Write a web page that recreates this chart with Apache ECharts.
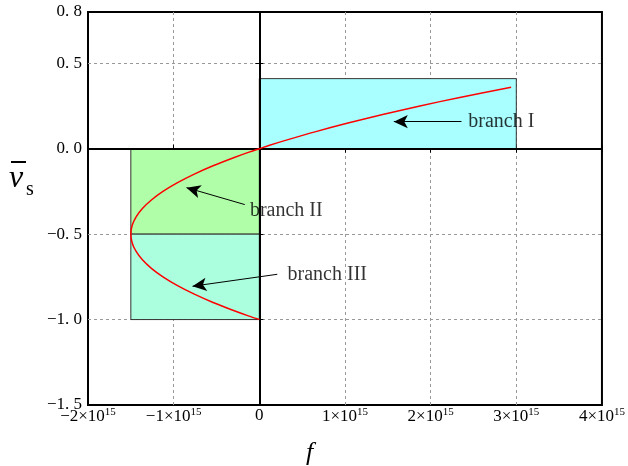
<!DOCTYPE html>
<html>
<head>
<meta charset="utf-8">
<script src="https://cdn.jsdelivr.net/npm/echarts@6/dist/echarts.min.js"></script>
<style>html,body{margin:0;padding:0;background:#fff;}#c{width:628px;height:466px;}</style>
</head>
<body>
<div id="c"></div>
<script>
// curve points: [f (×1e15), v̄s]
const curveF = [2.94, 2.34, 1.875, 1.44, 1.035, 0.66, 0.315, 0.12, 0, -0.12, -0.285, -0.54, -0.765, -0.96, -1.125, -1.26, -1.365, -1.44, -1.485, -1.5, -1.485, -1.44, -1.365, -1.26, -1.125, -0.96, -0.765, -0.54, -0.285, -0.12, 0];
const curveV = [0.36, 0.3, 0.25, 0.2, 0.15, 0.1, 0.05, 0.02, 0, -0.02, -0.05, -0.1, -0.15, -0.2, -0.25, -0.3, -0.35, -0.4, -0.45, -0.5, -0.55, -0.6, -0.65, -0.7, -0.75, -0.8, -0.85, -0.9, -0.95, -0.98, -1.0];
// boxes: [fMin, fMax, vMin, vMax] in ×1e15
const boxNames = ['branch I', 'branch II', 'branch III'];
const boxF = [[0, 3.0], [-1.5, 0], [-1.5, 0]];
const boxV = [[0, 0.41], [-0.5, 0], [-1.0, -0.5]];
const boxColors = ['#a9ffff', '#b0ffa8', '#abffdf'];
// annotation arrows: [fStart, vStart, fEnd, vEnd]
const arrowStart = [[2.36, 0.158], [-0.17, -0.327], [0.21, -0.735]];
const arrowEnd = [[1.57, 0.158], [-0.85, -0.228], [-0.78, -0.805]];
const labelPos = [[2.44, 0.158], [-0.11, -0.365], [0.33, -0.735]];
const xTicks = [-2, -1, 0, 1, 2, 3, 4];
const yTicks = [-1.5, -1.0, -0.5, 0.0, 0.5, 0.8];

const E = 1e15;
const font = 'Liberation Serif';
const curve = curveF.map((f, i) => [f * E, curveV[i]]);

const chart = echarts.init(document.getElementById('c'));
const fmtX = v => {
  const n = Math.round(v / E);
  if (n === 0) return '{n|0}';
  return '{n|' + (n < 0 ? '\u2212' : '') + Math.abs(n) + '\u00d710}{s|15}';
};
const fmtY = v => (v < 0 ? '\u2212' : '') + Math.abs(v).toFixed(1).replace('.', '. ');

const series = [];
boxNames.forEach((nm, i) => {
  series.push({
    type: 'line', data: [], silent: true,
    markArea: {
      silent: true,
      itemStyle: { color: boxColors[i], borderColor: '#333', borderWidth: 1 },
      data: [[{ coord: [boxF[i][0] * E, boxV[i][0]] }, { coord: [boxF[i][1] * E, boxV[i][1]] }]]
    }
  });
});
series.push({
  type: 'line', data: [], silent: true,
  markLine: {
    silent: true, symbol: 'none', label: { show: false },
    lineStyle: { color: '#000', width: 2, type: 'solid' },
    data: [{ xAxis: 0 }, { yAxis: 0 }]
  }
});
series.push({
  type: 'line', data: curve, smooth: 0.3, showSymbol: false,
  lineStyle: { color: '#ff0000', width: 1.5 }, z: 5
});
arrowStart.forEach((s, i) => {
  series.push({
    type: 'line', data: [], silent: true,
    markLine: {
      silent: true, symbol: ['none', 'arrow'], symbolSize: [10, 14],
      label: { show: false },
      lineStyle: { color: '#000', width: 1, type: 'solid' },
      data: [[{ coord: [s[0] * E, s[1]] }, { coord: [arrowEnd[i][0] * E, arrowEnd[i][1]] }]]
    }
  });
  series.push({
    type: 'scatter', data: [[labelPos[i][0] * E, labelPos[i][1]]], symbolSize: 0, silent: true,
    label: { show: true, position: 'right', distance: 0, formatter: boxNames[i],
      fontFamily: font, fontSize: 20, color: '#000' }
  });
});

chart.setOption({
  animation: false,
  backgroundColor: '#fff',
  grid: { left: 88, right: 25, top: 12, bottom: 61, show: true, borderColor: '#000', borderWidth: 2, backgroundColor: 'transparent' },
  xAxis: [{
    type: 'value', min: -2 * E, max: 4 * E, interval: E,
    axisLine: { show: false },
    axisTick: { show: true, inside: true, length: 4, lineStyle: { color: '#000' } },
    splitLine: { show: true, showMinLine: false, showMaxLine: false, lineStyle: { color: '#999', type: [3, 3], width: 1 } },
    axisLabel: { formatter: fmtX, margin: 2,
      rich: { n: { fontFamily: font, fontSize: 17, color: '#000' },
              s: { fontFamily: font, fontSize: 11, color: '#000', verticalAlign: 'top', padding: [0, 0, 8, 0] } } }
  }, {
    type: 'value', position: 'top', min: -2 * E, max: 4 * E, interval: E,
    axisLine: { show: false }, axisLabel: { show: false }, splitLine: { show: false },
    axisTick: { show: true, inside: true, length: 4, lineStyle: { color: '#000' } }
  }],
  yAxis: [{
    type: 'value', min: -1.5, max: 0.8, interval: 0.5,
    axisLine: { show: false },
    axisTick: { show: true, inside: true, length: 4, lineStyle: { color: '#000' } },
    splitLine: { show: true, showMinLine: false, showMaxLine: false, lineStyle: { color: '#999', type: [3, 3], width: 1 } },
    axisLabel: { formatter: fmtY, fontFamily: font, fontSize: 17, color: '#000', margin: 6 }
  }, {
    type: 'value', position: 'right', min: -1.5, max: 0.8, interval: 0.5,
    axisLine: { show: false }, axisLabel: { show: false }, splitLine: { show: false },
    axisTick: { show: true, inside: true, length: 4, lineStyle: { color: '#000' } }
  }],
  graphic: [
    { type: 'text', left: 306, top: 440, style: { text: 'f', font: 'italic 26px "Liberation Serif"', fill: '#000' } },
    { type: 'text', left: 9, top: 163, style: { text: 'v', font: 'italic 32px "Liberation Serif"', fill: '#000' } },
    { type: 'text', left: 26, top: 180, style: { text: 's', font: '20px "Liberation Serif"', fill: '#000' } },
    { type: 'rect', shape: { x: 11, y: 161, width: 15, height: 2 }, style: { fill: '#000' } }
  ],
  series: series
});
</script>
</body>
</html>
